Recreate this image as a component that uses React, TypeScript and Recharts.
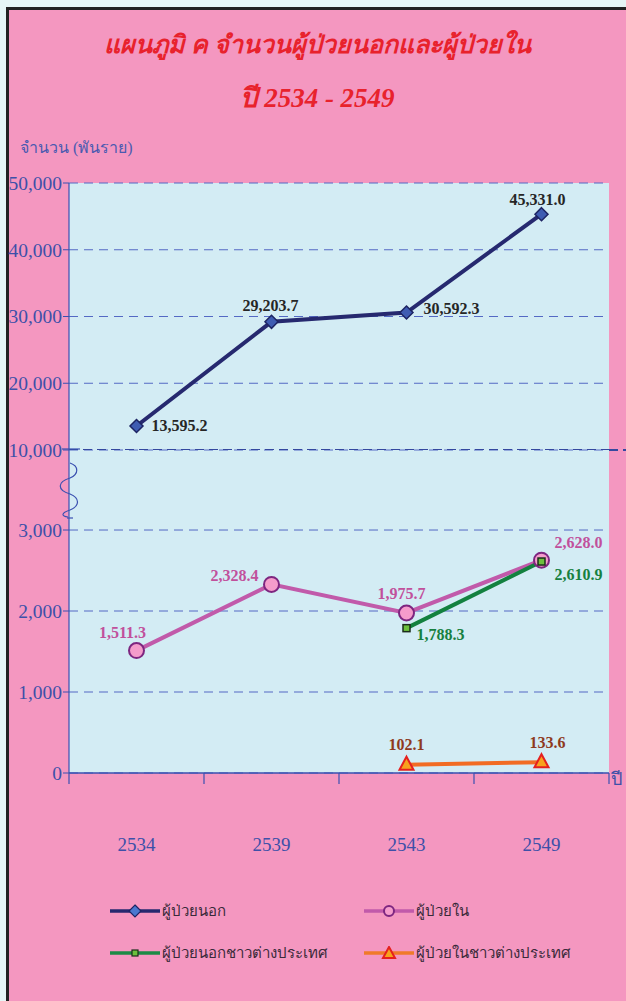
import React from "react";
import { LineChart, Line, XAxis, YAxis, CartesianGrid, LabelList, ReferenceLine, Legend } from "recharts";

// ---- data ----
const years = ["2534", "2539", "2543", "2549"];
const outpatients: (number | null)[] = [13595.2, 29203.7, 30592.3, 45331.0];
const inpatients: (number | null)[] = [1511.3, 2328.4, 1975.7, 2628.0];
const foreignOut: (number | null)[] = [null, null, 1788.3, 2610.9];
const foreignIn: (number | null)[] = [null, null, 102.1, 133.6];
const topTicks = [10000, 20000, 30000, 40000, 50000];
const bottomTicks = [0, 1000, 2000, 3000];

const seriesNames = {
  out: "ผู้ป่วยนอก",
  inn: "ผู้ป่วยใน",
  fout: "ผู้ป่วยนอกชาวต่างประเทศ",
  fin: "ผู้ป่วยในชาวต่างประเทศ",
};

const data = years.map((y, i) => ({
  year: y,
  out: outpatients[i],
  inn: inpatients[i],
  fout: foreignOut[i],
  fin: foreignIn[i],
}));

// ---- layout / style ----
const W = 626;
const PINK = "#f497c0";
const PLOT_BG = "#d3ecf4";
const AXIS = "#3a50b0";
const GRID = "#5469c4";
const TICK_COLOR = "#3d50a8";
const SERIF = "'Liberation Serif', 'DejaVu Serif', serif";
const BAND = 135;

// label offsets per point: [dx, dy, anchor]
const outLabelPos: [number, number, string][] = [
  [15, 5, "start"], [-1, -11, "middle"], [17, 1, "start"], [-4, -9, "middle"],
];
const innLabelPos: [number, number, string][] = [
  [-14, -13, "middle"], [-13, -3, "end"], [-5, -14, "middle"], [13, -12, "start"],
];
const foutLabelPos: [number, number, string][] = [
  [0, 0, "start"], [0, 0, "start"], [10, 12, "start"], [13, 18, "start"],
];
const finLabelPos: [number, number, string][] = [
  [0, 0, "middle"], [0, 0, "middle"], [0, -15, "middle"], [6, -14, "middle"],
];

const fmt = (v: number) =>
  v.toLocaleString("en-US", { minimumFractionDigits: 1, maximumFractionDigits: 1 });

const makeLabel = (pos: [number, number, string][], color: string) => (props: any) => {
  const { x, y, value, index } = props;
  if (value == null || x == null || y == null) return <g />;
  const [dx, dy, anchor] = pos[index];
  return (
    <text
      x={x + dx}
      y={y + dy}
      textAnchor={anchor as any}
      fill={color}
      fontFamily={SERIF}
      fontWeight="bold"
      fontSize={16}
    >
      {fmt(value)}
    </text>
  );
};

const DiamondDot = (p: any) => {
  const { cx, cy, index } = p;
  if (cx == null || cy == null) return <g key={`d${index}`} />;
  const r = 6.5;
  return (
    <path
      key={`d${index}`}
      d={`M${cx},${cy - r}L${cx + r},${cy}L${cx},${cy + r}L${cx - r},${cy}Z`}
      fill="#3f5cb2"
      stroke="#1d2463"
      strokeWidth={1.5}
    />
  );
};
const CircleDot = (p: any) => {
  const { cx, cy, index } = p;
  if (cx == null || cy == null) return <g key={`c${index}`} />;
  return <circle key={`c${index}`} cx={cx} cy={cy} r={7.5} fill="#f59ccb" stroke="#7d2680" strokeWidth={2} />;
};
const SquareDot = (p: any) => {
  const { cx, cy, index } = p;
  if (cx == null || cy == null) return <g key={`s${index}`} />;
  return <rect key={`s${index}`} x={cx - 3.5} y={cy - 3.5} width={7} height={7} fill="#6cc03c" stroke="#1b2d1b" strokeWidth={1.5} />;
};
const TriangleDot = (p: any) => {
  const { cx, cy, index } = p;
  if (cx == null || cy == null) return <g key={`t${index}`} />;
  return (
    <path
      key={`t${index}`}
      d={`M${cx},${cy - 8}L${cx + 7},${cy + 5}L${cx - 7},${cy + 5}Z`}
      fill="#f7a21e"
      stroke="#e5201f"
      strokeWidth={2}
    />
  );
};

const XTick = (props: any) => {
  const { x, y, payload, index, visibleTicksCount } = props;
  const last = index === (visibleTicksCount ?? years.length) - 1;
  return (
    <g>
      <line x1={x - BAND / 2} y1={y} x2={x - BAND / 2} y2={y + 11} stroke={AXIS} strokeWidth={1.2} />
      {last && <line x1={x + BAND / 2} y1={y} x2={x + BAND / 2} y2={y + 11} stroke={AXIS} strokeWidth={1.2} />}
      <text x={x} y={y + 78} textAnchor="middle" fill={TICK_COLOR} fontFamily={SERIF} fontSize={19}>
        {payload.value}
      </text>
    </g>
  );
};

const LegendIcon = ({ kind }: { kind: string }) => {
  const colors: Record<string, string> = { out: "#26296f", inn: "#c15aaa", fout: "#1c8a45", fin: "#f07a2a" };
  const c = colors[kind];
  return (
    <svg width={50} height={14} style={{ verticalAlign: "middle" }}>
      <line x1={0} y1={7} x2={50} y2={7} stroke={c} strokeWidth={3.5} />
      {kind === "out" && <path d="M25,1L31,7L25,13L19,7Z" fill="#4a78d0" stroke="#1d2463" strokeWidth={1.2} />}
      {kind === "inn" && <circle cx={25} cy={7} r={5} fill="#f59ccb" stroke="#7d2680" strokeWidth={2} />}
      {kind === "fout" && <rect x={22} y={4} width={6} height={6} fill="#6cc03c" stroke="#1b2d1b" strokeWidth={1.2} />}
      {kind === "fin" && <path d="M25,1L31,12L19,12Z" fill="#f7a21e" stroke="#e5201f" strokeWidth={2} />}
    </svg>
  );
};

const LegendContent = () => {
  const items: [string, number, number][] = [
    ["out", 110, 26],
    ["inn", 364, 26],
    ["fout", 110, 68],
    ["fin", 364, 68],
  ];
  return (
    <div style={{ position: "relative", width: 609, height: 128 }}>
      {items.map(([k, left, top]) => (
        <div
          key={k}
          style={{
            position: "absolute",
            left,
            top,
            display: "flex",
            alignItems: "center",
            fontFamily: SERIF,
            fontSize: 15,
            color: "#3a2a3a",
            whiteSpace: "nowrap",
          }}
        >
          <LegendIcon kind={k} />
          <span style={{ marginLeft: 2 }}>{(seriesNames as any)[k]}</span>
        </div>
      ))}
    </div>
  );
};

const titleStyle: React.CSSProperties = {
  position: "absolute",
  left: 9,
  width: W - 9,
  textAlign: "center",
  color: "#e8222c",
  fontFamily: SERIF,
  fontStyle: "italic",
  fontWeight: "bold",
  fontSize: 25,
  lineHeight: "40px",
};

export default function App() {
  return (
    <div style={{ position: "absolute", left: 0, top: 0, width: W, height: 1001, background: "#e6f6f6", overflow: "hidden" }}>
      <div
        style={{
          position: "absolute",
          left: 6,
          top: 7,
          width: W - 6,
          height: 1001 - 7,
          background: PINK,
          borderLeft: "3px solid #222",
          borderTop: "3px solid #222",
          boxSizing: "border-box",
        }}
      />
      <div style={{ ...titleStyle, top: 25 }}>แผนภูมิ ค จำนวนผู้ป่วยนอกและผู้ป่วยใน</div>
      <div style={{ ...titleStyle, top: 78, fontSize: 27 }}>ปี 2534 - 2549</div>
      <div
        style={{
          position: "absolute",
          top: 137,
          left: 20,
          color: "#4a5ab0",
          fontFamily: SERIF,
          fontSize: 16,
          lineHeight: "22px",
        }}
      >
        จำนวน (พันราย)
      </div>

      {/* upper part of the broken axis */}
      <div style={{ position: "absolute", left: 0, top: 0 }}>
        <LineChart width={W} height={464} data={data} margin={{ top: 183, right: 17, left: 0, bottom: 14 }}>
          <CartesianGrid vertical={false} stroke={GRID} strokeDasharray="9 6" fill={PLOT_BG} />
          <XAxis dataKey="year" scale="band" hide />
          <YAxis
            domain={[10000, 50000]}
            ticks={topTicks}
            interval={0}
            width={69}
            allowDataOverflow
            axisLine={{ stroke: AXIS, strokeWidth: 1.2 }}
            tickLine={{ stroke: AXIS }}
            tickSize={6}
            tickMargin={1}
            tick={{ fill: TICK_COLOR, fontSize: 19.5, fontFamily: SERIF }}
            tickFormatter={(v: number) => v.toLocaleString("en-US")}
          />
          <YAxis yAxisId="r" orientation="right" width={0} tick={false} tickLine={false} axisLine={{ stroke: AXIS, strokeWidth: 1.2 }} />
          <ReferenceLine y={10000} stroke="#34489f" strokeWidth={2} strokeDasharray="9 5" />
          <Line
            type="linear"
            dataKey="out"
            name={seriesNames.out}
            stroke="#26296f"
            strokeWidth={4}
            dot={DiamondDot}
            isAnimationActive={false}
          >
            <LabelList dataKey="out" content={makeLabel(outLabelPos, "#262626")} />
          </Line>
        </LineChart>
      </div>

      {/* lower part of the broken axis */}
      <div style={{ position: "absolute", left: 0, top: 450 }}>
        <LineChart width={W} height={551} data={data} margin={{ top: 0, right: 17, left: 0, bottom: 0 }}>
          <CartesianGrid vertical={false} stroke={GRID} strokeDasharray="9 6" fill={PLOT_BG} />
          <XAxis
            dataKey="year"
            scale="band"
            height={100}
            axisLine={{ stroke: AXIS, strokeWidth: 1.5 }}
            tickLine={false}
            tickSize={0}
            tickMargin={0}
            interval={0}
            tick={<XTick />}
          />
          <YAxis
            domain={[0, 3988]}
            ticks={bottomTicks}
            interval={0}
            width={69}
            allowDataOverflow
            axisLine={{ stroke: AXIS, strokeWidth: 1.2 }}
            tickLine={{ stroke: AXIS }}
            tickSize={6}
            tickMargin={1}
            tick={{ fill: TICK_COLOR, fontSize: 19.5, fontFamily: SERIF }}
            tickFormatter={(v: number) => v.toLocaleString("en-US")}
          />
          <YAxis yAxisId="r" orientation="right" width={0} tick={false} tickLine={false} axisLine={{ stroke: AXIS, strokeWidth: 1.2 }} />
          <Legend verticalAlign="bottom" align="left" height={128} content={() => <LegendContent />} />
          <Line
            type="linear"
            dataKey="inn"
            name={seriesNames.inn}
            stroke="#c15aaa"
            strokeWidth={4}
            dot={CircleDot}
            isAnimationActive={false}
          >
            <LabelList dataKey="inn" content={makeLabel(innLabelPos, "#c1509c")} />
          </Line>
          <Line
            type="linear"
            dataKey="fout"
            name={seriesNames.fout}
            stroke="#13813f"
            strokeWidth={4}
            dot={SquareDot}
            isAnimationActive={false}
          >
            <LabelList dataKey="fout" content={makeLabel(foutLabelPos, "#178040")} />
          </Line>
          <Line
            type="linear"
            dataKey="fin"
            name={seriesNames.fin}
            stroke="#f26c24"
            strokeWidth={4}
            dot={TriangleDot}
            isAnimationActive={false}
          >
            <LabelList dataKey="fin" content={makeLabel(finLabelPos, "#8e3a1e")} />
          </Line>
        </LineChart>
      </div>

      {/* axis break decoration */}
      <svg style={{ position: "absolute", left: 0, top: 0, pointerEvents: "none" }} width={W} height={1001}>
        <line x1={62} y1={449} x2={80} y2={449} stroke={AXIS} strokeWidth={1.2} />
        <line x1={609} y1={450} x2={626} y2={450} stroke="#34489f" strokeWidth={2} strokeDasharray="9 5" />
        <line x1={67} y1={518} x2={73} y2={518} stroke={AXIS} strokeWidth={1.2} />
        <path
          d="M70,463 C79,466 79,474 70,478 C57,482 57,490 70,494 C80,498 80,506 70,510 C61,513 61,516 68,517"
          fill="none"
          stroke={AXIS}
          strokeWidth={1.2}
        />
      </svg>
      <div
        style={{
          position: "absolute",
          left: 611,
          top: 767,
          color: TICK_COLOR,
          fontFamily: SERIF,
          fontSize: 18,
          lineHeight: "24px",
        }}
      >
        ปี
      </div>
    </div>
  );
}
